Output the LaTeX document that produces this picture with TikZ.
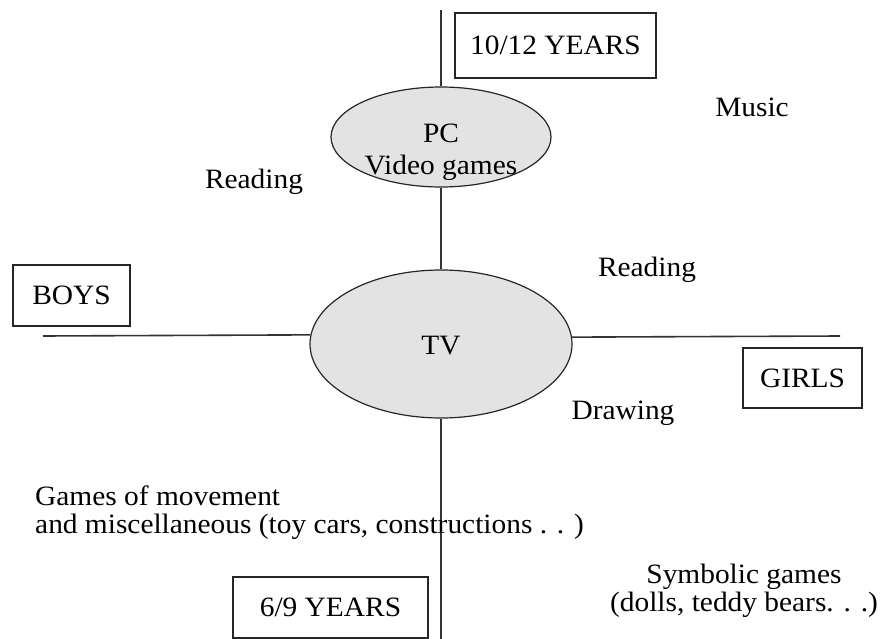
\documentclass[tikz,border=0pt]{standalone}
\usepackage{fontspec}
\setmainfont{Liberation Serif}[FakeStretch=1.05]
\usetikzlibrary{shapes.geometric}
\begin{document}
\begin{tikzpicture}[x=1pt,y=-1pt,
  every node/.style={font=\fontsize{28}{28}\selectfont, inner sep=0pt},
  axis/.style={line width=1.6pt, draw=black!80},
  blob/.style={ellipse, draw=black!85, line width=1.2pt, fill=black!11},
  tag/.style={draw=black!85, line width=1.4pt, minimum width=#1, minimum height=61pt},
  lbl/.style={anchor=base}]
\useasboundingbox (0,0) rectangle (885,639);
% ellipses
\node[blob, minimum width=220pt, minimum height=100pt] (pc) at (441,137) {};
\node[blob, minimum width=262pt, minimum height=148pt] (tv) at (441,344) {};
\node[lbl] (pct) at (441,143) {PC};
\node[lbl] (vg) at (441,175) {Video games};
\node[lbl] (tvt) at (441,354) {TV};
% axis end points
\coordinate (top) at (441,10);
\coordinate (bot) at (441,639);
\coordinate (lft) at (43,336);
\coordinate (rgt) at (840,336);
\draw[axis] (top) -- (pc.north);
\draw[axis] (pc.south) -- (tv.north);
\draw[axis] (tv.south) -- (bot);
\draw[axis] (lft) -- (tv.176.5);
\draw[axis] (tv.3.5) -- (rgt);
% boxes
\node[tag=201pt, minimum height=65pt] (old) at (555.5,45.5) {10/12 YEARS};
\node[tag=117pt] (boys) at (71.5,295.5) {BOYS};
\node[tag=119pt, minimum height=60pt] (girls) at (802.5,378) {GIRLS};
\node[tag=195pt] (young) at (330.5,607.5) {6/9 YEARS};
% activity labels
\node[lbl] (music) at (752,117) {Music};
\node[lbl] (read1) at (254,188) {Reading};
\node[lbl] (read2) at (647,276) {Reading};
\node[lbl] (draw) at (623,419) {Drawing};
\node[anchor=base west, align=left] (move) at (35,533) {Games of movement\\[0pt]and miscellaneous (toy cars, constructions . . )};
\node[anchor=base, align=center] (symb) at (744,611) {Symbolic games\\[0pt](dolls, teddy bears. . .)};
\end{tikzpicture}
\end{document}
